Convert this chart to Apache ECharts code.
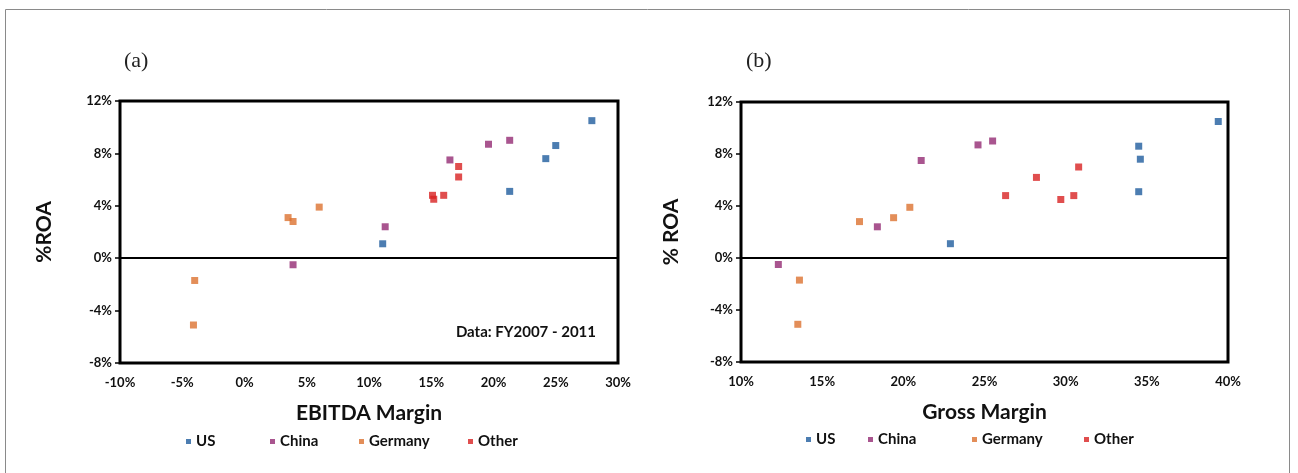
<!DOCTYPE html>
<html>
<head>
<meta charset="utf-8">
<script src="https://cdn.jsdelivr.net/npm/echarts@6/dist/echarts.min.js"></script>
<style>
html,body{margin:0;padding:0;background:#fff;}
#c{width:1298px;height:473px;}
</style>
</head>
<body>
<div id="c"></div>
<script>
// ---- data (values in %) ----
var regions = ['US', 'China', 'Germany', 'Other'];
var colors = ['#1f5c9e', '#932a73', '#dc7230', '#d82222'];

var roaUS      = [10.5, 8.6, 7.6, 5.1, 1.1];
var ebitdaUS   = [27.9, 25.0, 24.2, 21.3, 11.1];
var grossUS    = [39.4, 34.5, 34.6, 34.5, 22.9];

var roaChina    = [9.0, 8.7, 7.5, 2.4, -0.5];
var ebitdaChina = [21.3, 19.6, 16.5, 11.3, 3.9];
var grossChina  = [25.5, 24.6, 21.1, 18.4, 12.3];

var roaGermany    = [3.9, 3.1, 2.8, -1.7, -5.1];
var ebitdaGermany = [6.0, 3.5, 3.9, -4.0, -4.1];
var grossGermany  = [20.4, 19.4, 17.3, 13.6, 13.5];

var roaOther    = [7.0, 6.2, 4.8, 4.8, 4.5];
var ebitdaOther = [17.2, 17.2, 16.0, 15.1, 15.2];
var grossOther  = [30.8, 28.2, 26.3, 30.5, 29.7];

var yTicks = { min: -8, max: 12, interval: 4 };
var xTicksA = { min: -10, max: 30, interval: 5 };
var xTicksB = { min: 10, max: 40, interval: 5 };

var roa = [roaUS, roaChina, roaGermany, roaOther];
var ebitda = [ebitdaUS, ebitdaChina, ebitdaGermany, ebitdaOther];
var gross = [grossUS, grossChina, grossGermany, grossOther];

function pairs(xs, ys) { return xs.map(function (x, i) { return [x, ys[i]]; }); }

var FONT = 'Lato';
var tickLabel = { formatter: '{value}%', fontFamily: FONT, fontWeight: 'bold', fontSize: 13, color: '#111' };

function xAxis(idx, t, name) {
  return {
    type: 'value', gridIndex: idx, min: t.min, max: t.max, interval: t.interval,
    axisLine: { show: false, onZero: false }, axisTick: { show: false }, splitLine: { show: false },
    axisLabel: Object.assign({ margin: 13 }, tickLabel),
    name: name, nameLocation: 'middle', nameGap: 40,
    nameTextStyle: { fontFamily: FONT, fontWeight: 'bold', fontSize: 21, color: '#111' }
  };
}
function yAxis(idx, name, gap) {
  return {
    type: 'value', gridIndex: idx, min: yTicks.min, max: yTicks.max, interval: yTicks.interval,
    axisLine: { show: false, onZero: false }, axisTick: { show: true, length: 5, lineStyle: { color: '#000', width: 1.5 } },
    splitLine: { show: false },
    axisLabel: Object.assign({ margin: 8 }, tickLabel),
    name: name, nameLocation: 'middle', nameGap: gap, nameRotate: 90,
    nameTextStyle: { fontFamily: FONT, fontWeight: 'bold', fontSize: 21, color: '#111' }
  };
}

var series = [];
[0, 1].forEach(function (g) {
  regions.forEach(function (r, i) {
    var s = {
      name: r, type: 'scatter', xAxisIndex: g, yAxisIndex: g,
      symbol: 'rect', symbolSize: 7,
      itemStyle: { color: colors[i] },
      data: pairs(g === 0 ? ebitda[i] : gross[i], roa[i]),
      z: 3
    };
    if (i === 0) {
      s.markLine = {
        silent: true, symbol: 'none', label: { show: false },
        lineStyle: { color: '#000', width: 2, type: 'solid' },
        data: [{ yAxis: 0 }]
      };
    }
    series.push(s);
  });
});

var legendPosA = [181, 265, 354, 463];
var legendPosB = [801, 863, 967, 1079];
var legends = [];
regions.forEach(function (r, i) {
  [[legendPosA, 429], [legendPosB, 427]].forEach(function (p) {
    legends.push({
      data: [r], left: p[0][i], top: p[1], itemWidth: 5, itemHeight: 5, itemGap: 4,
      icon: 'rect', selectedMode: false,
      textStyle: { fontFamily: FONT, fontWeight: 'bold', fontSize: 15, color: '#111' }
    });
  });
});

var chart = echarts.init(document.getElementById('c'));
chart.setOption({
  animation: false,
  backgroundColor: '#fff',
  title: [
    { text: '(a)', left: 119, top: 45, textStyle: { fontFamily: 'Liberation Serif', fontWeight: 'normal', fontSize: 22, color: '#222' } },
    { text: '(b)', left: 741, top: 45, textStyle: { fontFamily: 'Liberation Serif', fontWeight: 'normal', fontSize: 22, color: '#222' } }
  ],
  grid: [
    { left: 120, top: 101, width: 498, height: 262, show: true, borderColor: '#000', borderWidth: 3, backgroundColor: '#fff' },
    { left: 741, top: 102, width: 487, height: 260, show: true, borderColor: '#000', borderWidth: 3, backgroundColor: '#fff' }
  ],
  xAxis: [xAxis(0, xTicksA, 'EBITDA Margin'), xAxis(1, xTicksB, 'Gross Margin')],
  yAxis: [yAxis(0, '%ROA', 65), yAxis(1, '% ROA', 59)],
  legend: legends,
  series: series,
  graphic: [
    { type: 'rect', shape: { x: 5.5, y: 9.5, width: 1284, height: 500 }, style: { fill: 'none', stroke: '#8a8a8a', lineWidth: 1 }, silent: true },
    { type: 'text', right: 1298 - 596, top: 325, style: { text: 'Data: FY2007 - 2011', fontFamily: FONT, fontWeight: 'bold', fontSize: 15, fill: '#111' } }
  ]
});
</script>
</body>
</html>
